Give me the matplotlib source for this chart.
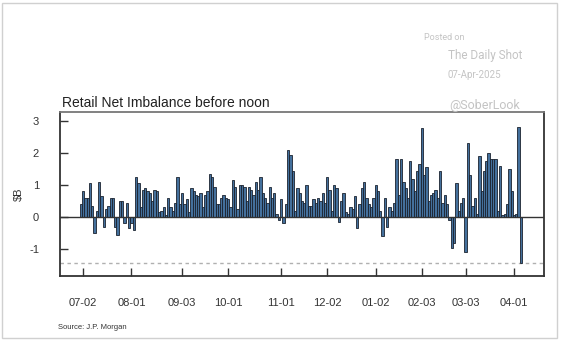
import numpy as np
import pandas as pd
import matplotlib
matplotlib.use('Agg')
import matplotlib.pyplot as plt
from matplotlib.patches import Rectangle

plt.rcParams['font.family'] = ['Liberation Sans', 'DejaVu Sans']

# retail net imbalance before noon, $B, one value per trading day
jul = [0.4, 0.8, 0.6, 0.6, 1.05, 0.35, -0.5, 0.2, 1.1, 0.65, -0.3, 0.25, 0.35, 0.6, 0.6,
       -0.3, -0.55, 0.5, 0.5, -0.2, 0.45, -0.35]
aug = [-0.2, -0.4, 1.25, 1.05, 0.3, 0.85, 0.9, 0.8, 0.75, 0.5, 0.85, 0.8, 0.15, 0.2, 0.3,
       0.05, 0.6, 0.3, 0.2, 0.45, 1.25, 0.4]
sep = [0.75, 0.4, 0.55, 0.15, 0.9, 0.8, 0.7, 0.65, 0.75, 0.3, 0.7, 0.8, 1.35, 1.25, 0.95,
       0.4, 0.4, 0.6, 0.7, 0.6]
oct_ = [0.55, 0.3, 1.15, 0.95, 0.25, 1.0, 1.0, 0.95, 0.5, 0.95, 0.85, 0.7, 1.1, 0.85, 1.25,
        0.75, 0.6, 0.45, 0.95, 0.6, 0.75, 0.1, -0.1]
nov = [0.55, -0.2, 0.4, 2.1, 1.95, 1.45, 0.2, 0.9, 0.75, 0.5, 0.45, 1.0, 0.35, 0.35, 0.55,
       0.45, 0.6, 0.5, 0.75, 0.45]
dec = [1.25, 0.85, 0.2, 1.0, 0.9, -0.15, 0.5, 0.75, 0.15, 0.1, 0.3, 0.25, 0.65, -0.35, 0.4,
       0.9, 1.1, 0.6, 0.4, 0.3, 0.6]
jan = [1.0, 0.8, 0.2, -0.6, 0.6, -0.3, 0.3, 0.2, 0.45, 1.8, 0.7, 1.8, 1.1, 0.9, 0.6,
       1.75, 1.2, 0.8, 1.45, 1.65]
feb = [2.78, 1.3, 1.55, 0.5, 0.7, 0.75, 0.85, 0.6, 1.45, 0.45, 0.7, 0.4, -0.1, -0.98, -0.82,
       1.05, 0.2, 0.45, 0.6]
mar_apr = [-1.1, 2.3, 1.3, 0.35, 0.6, 0.1, 1.9, 0.8, 1.45, 1.75, 2.0, 1.8, 1.8, 1.8, 0.2,
           1.6, 0.05, 0.1, 0.4, 1.5, 0.8, 0.05, 0.1, 2.8, -1.43]

holidays = ['2024-07-04', '2024-09-02', '2024-11-28', '2024-12-25', '2025-01-01',
            '2025-01-09', '2025-01-20', '2025-02-17']
tick_dates = ['2024-07-02', '2024-08-01', '2024-09-03', '2024-10-01', '2024-11-01',
              '2024-12-02', '2025-01-02', '2025-02-03', '2025-03-03', '2025-04-01']
min_level = -1.44

values = np.array(jul + aug + sep + oct_ + nov + dec + jan + feb + mar_apr)
dates = pd.bdate_range('2024-07-01', '2025-04-04')
dates = dates[~dates.isin(pd.to_datetime(holidays))]
x = np.arange(len(dates))
tick_pos = [int(np.where(dates == pd.Timestamp(d))[0][0]) for d in tick_dates]
tick_lab = [pd.Timestamp(d).strftime('%m-%d') for d in tick_dates]

fig = plt.figure(figsize=(5.64, 3.45), dpi=100)
ax = fig.add_axes([0.1064, 0.2, 0.858, 0.4754])

ax.bar(x, values, width=1.0, color='#44709c', edgecolor='#1a222e', linewidth=0.6, zorder=2)
ax.axhline(0, color='#333333', lw=1.0, zorder=3)
ax.axhline(min_level, color='#b0b0b0', lw=1.0, ls=(0, (2.5, 2.5)), zorder=1)

ax.set_xlim(x[0] - 9, x[-1] + 10)
ax.set_ylim(-1.84, 3.28)
ax.set_yticks([-1, 0, 1, 2, 3])
ax.set_yticklabels(['-1', '0', '1', '2', '3'])
ax.set_xticks(tick_pos)
ax.set_xticklabels(tick_lab)
ax.tick_params(axis='both', direction='in', length=6, width=1.0, color='#333333',
               labelsize=8, labelcolor='#333333')
ax.tick_params(axis='x', pad=16)
ax.tick_params(axis='y', pad=15)
for s in ax.spines.values():
    s.set_color('#333333')
    s.set_linewidth(1.3)
ax.spines['top'].set_color('#777777')

ax.set_ylabel('\\$B', fontsize=8, color='#333333', labelpad=4)
fig.text(0.11, 0.69, 'Retail Net Imbalance before noon', fontsize=10, color='#222222')
fig.text(0.103, 0.047, 'Source: J.P. Morgan', fontsize=5.5, color='#333333')

# watermark
wm = dict(color='#c4c4c4', family=['Roboto', 'DejaVu Sans'])
fig.text(0.752, 0.885, 'Posted on', fontsize=6.5, **wm)
fig.text(0.794, 0.83, 'The Daily Shot', fontsize=8.5, **wm)
fig.text(0.794, 0.775, '07-Apr-2025', fontsize=7, **wm)
fig.text(0.796, 0.683, '@SoberLook', fontsize=9, **wm)

# light border round the picture
fig.patches.append(Rectangle((0.004, 0.02), 0.984, 0.972, transform=fig.transFigure,
                             fill=False, edgecolor='#d0d0d0', lw=1.0))

fig.savefig('out.png', dpi=100)
